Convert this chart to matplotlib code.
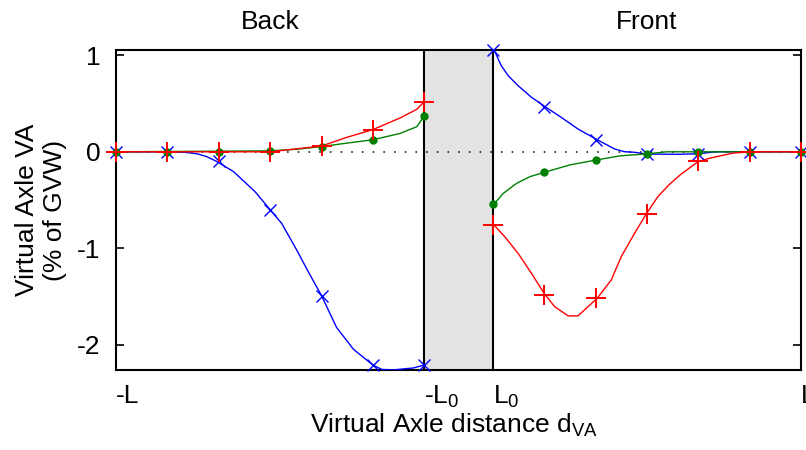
import matplotlib
matplotlib.use("Agg")
import matplotlib.pyplot as plt
import matplotlib.transforms as mtransforms

plt.rcParams['font.family'] = ['Liberation Sans', 'DejaVu Sans']
plt.rcParams['mathtext.fontset'] = 'custom'
plt.rcParams['mathtext.rm'] = 'Liberation Sans'
plt.rcParams['mathtext.it'] = 'Liberation Sans:italic'
plt.rcParams['mathtext.default'] = 'regular'

# ---- data (x in units of L; L0 = 0.1 L) ----
L0 = 0.1
xtick_pos = [-1.0, -0.1, 0.1, 1.0]
xtick_labels = ['-L', '-L$_0$', 'L$_0$', 'L']
ytick_pos = [1, 0, -1, -2]

# marker (sampled) positions
back_x = [-1.0, -0.85, -0.70, -0.55, -0.40, -0.25, -0.10]
front_x = [0.10, 0.25, 0.40, 0.55, 0.70, 0.85, 1.00]

back_blue = [0.0, 0.0, -0.10, -0.60, -1.49, -2.21, -2.21]
back_green = [0.0, 0.0, 0.0, 0.01, 0.055, 0.125, 0.37]
back_red = [0.0, 0.0, 0.0, 0.0, 0.06, 0.23, 0.52]

front_blue = [1.055, 0.46, 0.125, -0.023, -0.02, 0.0, 0.0]
front_green = [-0.54, -0.21, -0.083, -0.022, 0.0, 0.0, 0.0]
front_red = [-0.76, -1.48, -1.52, -0.645, -0.10, 0.0, 0.0]

# smooth curves
bb_cx = [-1.0, -0.85, -0.80, -0.764, -0.735, -0.706, -0.657, -0.594, -0.55, -0.516,
         -0.472, -0.438, -0.40, -0.356, -0.307, -0.25, -0.224, -0.19, -0.132, -0.10]
bb_cy = [0.0, 0.0, -0.005, -0.02, -0.05, -0.10, -0.205, -0.413, -0.60, -0.743,
         -1.02, -1.247, -1.49, -1.82, -2.045, -2.21, -2.255, -2.26, -2.24, -2.21]

bg_cx = [-1.0, -0.55, -0.50, -0.463, -0.40, -0.326, -0.25, -0.171, -0.122, -0.10]
bg_cy = [0.0, 0.01, 0.02, 0.03, 0.055, 0.09, 0.125, 0.19, 0.26, 0.37]

br_cx = [-1.0, -0.55, -0.50, -0.45, -0.40, -0.326, -0.25, -0.171, -0.122, -0.10]
br_cy = [0.0, 0.0, 0.02, 0.04, 0.06, 0.15, 0.23, 0.35, 0.44, 0.52]

fb_cx = [0.104, 0.125, 0.145, 0.174, 0.213, 0.253, 0.30, 0.349, 0.405, 0.456,
         0.485, 0.514, 0.548, 0.60, 0.65, 0.70, 0.75, 0.85, 1.0]
fb_cy = [1.055, 0.892, 0.789, 0.685, 0.565, 0.467, 0.357, 0.236, 0.125, 0.029,
         0.001, -0.005, -0.023, -0.025, -0.025, -0.02, 0.0, 0.0, 0.0]

fg_cx = [0.104, 0.131, 0.17, 0.209, 0.253, 0.326, 0.405, 0.472, 0.548, 0.608, 0.70, 1.0]
fg_cy = [-0.54, -0.43, -0.326, -0.257, -0.21, -0.135, -0.083, -0.042, -0.022, 0.0, 0.0, 0.0]

fr_cx = [0.104, 0.135, 0.174, 0.213, 0.252, 0.281, 0.32, 0.349, 0.378, 0.405,
         0.446, 0.475, 0.514, 0.548, 0.582, 0.615, 0.647, 0.70, 0.734, 0.80, 0.85, 1.0]
fr_cy = [-0.759, -0.88, -1.052, -1.259, -1.477, -1.605, -1.70, -1.70, -1.605, -1.518,
         -1.328, -1.087, -0.845, -0.645, -0.465, -0.34, -0.24, -0.10, -0.066, -0.014, 0.0, 0.0]

BLUE = '#0000ff'
GREEN = '#008000'
RED = '#ff0000'
FS = 19

fig = plt.figure(figsize=(8.06, 4.5), dpi=100)
ax = fig.add_axes([116 / 806, 1 - 370 / 450, (801 - 116) / 806, 320 / 450])
ax.set_xlim(-1.0, 1.0)
ax.set_ylim(-2.261, 1.055)

ax.axvspan(-L0, L0, color='#e3e3e3', zorder=0, lw=0)
ax.axhline(0, color='black', lw=1.1, linestyle=(0, (1, 6)), zorder=1)
ax.axvline(-L0, color='black', lw=1.5, zorder=2)
ax.axvline(L0, color='black', lw=1.5, zorder=2)

curves = [
    (bb_cx, bb_cy, BLUE), (bg_cx, bg_cy, GREEN), (br_cx, br_cy, RED),
    (fb_cx, fb_cy, BLUE), (fg_cx, fg_cy, GREEN), (fr_cx, fr_cy, RED),
]
for i, (cx, cy, col) in enumerate(curves):
    ax.plot(cx, cy, color=col, lw=1.0, zorder=3 + (i % 3))

marks = [
    (back_x, back_blue, BLUE, 'x', 9, 1.0),
    (back_x, back_green, GREEN, 'o', 5, 1.0),
    (back_x, back_red, RED, '+', 14, 1.4),
    (front_x, front_blue, BLUE, 'x', 9, 1.0),
    (front_x, front_green, GREEN, 'o', 5, 1.0),
    (front_x, front_red, RED, '+', 14, 1.4),
]
for i, (mx, my, col, mk, ms, mew) in enumerate(marks):
    ax.plot(mx, my, linestyle='none', marker=mk, markersize=ms, markeredgewidth=mew,
            color=col, markerfacecolor=col, clip_on=False, zorder=6 + (i % 3))

ax.set_xticks(xtick_pos)
ax.set_xticklabels(xtick_labels, fontsize=FS)
for lab in ax.get_xticklabels():
    lab.set_horizontalalignment('left')
ax.set_yticks(ytick_pos)
ax.set_yticklabels([str(v) for v in ytick_pos], fontsize=FS)

ax.tick_params(axis='both', direction='in', length=6, width=1.2,
               top=True, right=True, colors='black')
ax.tick_params(axis='x', pad=10)
ax.tick_params(axis='y', pad=11)
for sp in ax.spines.values():
    sp.set_linewidth(1.5)
    sp.set_color('black')

trans = mtransforms.blended_transform_factory(ax.transData, ax.transAxes)
ax.text((-1.0 - L0) / 2, 1.0656, 'Back', transform=trans, ha='center',
        va='baseline', fontsize=FS)
ax.text((1.0 + L0) / 2, 1.0656, 'Front', transform=trans, ha='center',
        va='baseline', fontsize=FS)

ax.text(0.494, -0.197, 'Virtual Axle distance d$_{VA}$', transform=ax.transAxes,
        ha='center', va='baseline', fontsize=FS)
fig.text(41 / 806, 1 - 210 / 450, 'Virtual Axle VA\n(% of GVW)', rotation=90,
         ha='center', va='center', multialignment='center', fontsize=FS,
         linespacing=1.2)

fig.savefig('out.png', dpi=100)
